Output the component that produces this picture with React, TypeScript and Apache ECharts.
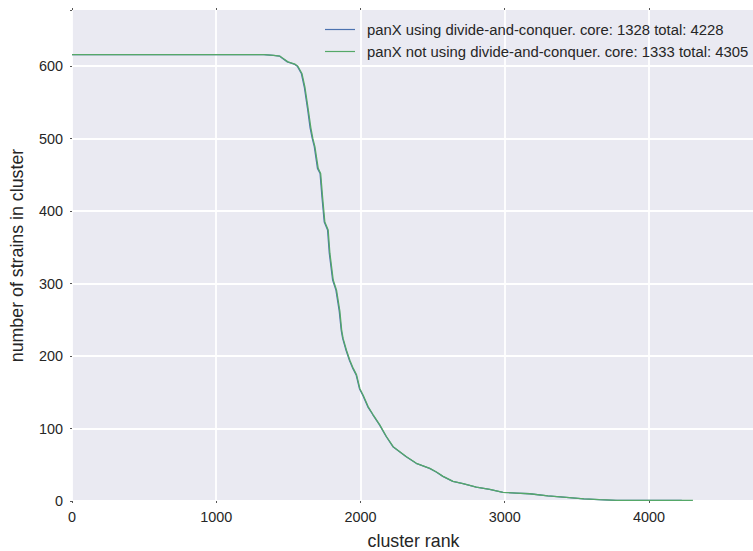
import React, { useEffect, useRef } from "react";
import * as echarts from "echarts";

const seriesNames = [
  "panX using divide-and-conquer. core: 1328 total: 4228",
  "panX not using divide-and-conquer. core: 1333 total: 4305",
];

// cluster rank / number of strains (blue: divide-and-conquer)
const blueRank = [0, 1328, 1395, 1438, 1458, 1493, 1540, 1562, 1590, 1611, 1632, 1651, 1666, 1680, 1702, 1720, 1733, 1749, 1772, 1784, 1807, 1830, 1853, 1867, 1877, 1900, 1924, 1947, 1970, 1993, 2016, 2051, 2086, 2132, 2178, 2225, 2271, 2317, 2386, 2479, 2525, 2571, 2640, 2710, 2802, 2895, 2987, 3080, 3172, 3298, 3426, 3548, 3650, 3770, 3880, 4228];
const blueVal = [616, 616, 615, 614, 611, 606, 603, 600, 590, 571, 543, 515, 500, 489, 459, 452, 420, 385, 374, 342, 305, 291, 262, 235, 224, 208, 194, 183, 174, 155, 146, 130, 119, 105, 89, 75, 68, 61, 52, 45, 40, 34, 27, 24, 19, 16, 12, 11, 10, 7, 5, 3, 2, 1, 1, 1];

// cluster rank / number of strains (green: not using divide-and-conquer)
const greenRank = [0, 1333, 1400, 1440, 1462, 1497, 1545, 1566, 1594, 1615, 1636, 1656, 1670, 1684, 1707, 1724, 1737, 1753, 1776, 1788, 1811, 1834, 1857, 1870, 1880, 1903, 1927, 1950, 1973, 1996, 2019, 2054, 2088, 2134, 2180, 2227, 2273, 2319, 2388, 2481, 2527, 2573, 2642, 2712, 2804, 2897, 2989, 3082, 3174, 3300, 3428, 3550, 3659, 3780, 3890, 4305];
const greenVal = [616, 616, 615, 614, 611, 606, 603, 600, 590, 571, 543, 515, 500, 489, 459, 452, 420, 385, 374, 342, 305, 291, 262, 235, 224, 208, 194, 183, 174, 155, 146, 130, 119, 105, 89, 75, 68, 61, 52, 45, 40, 34, 27, 24, 19, 16, 12, 11, 10, 7, 5, 3, 2, 1, 1, 1];

const xTicks = [0, 1000, 2000, 3000, 4000];
const yTicks = [0, 100, 200, 300, 400, 500, 600];

const colors = ["#4C72B0", "#55A868"];
const FONT = "'Liberation Sans', Arial, sans-serif";

const tickFmt = (ticks: number[]) => (v: number) =>
  Math.abs(v - Math.round(v)) < 1e-6 && ticks.includes(Math.round(v)) ? String(Math.round(v)) : "";

export default function App() {
  const ref = useRef<HTMLDivElement>(null);
  useEffect(() => {
    if (!ref.current) return;
    const chart = echarts.init(ref.current, null, { renderer: "svg" });
    const xMax = 4305 * 1.1;
    const yMax = 616 * 1.1;
    const tickStyle = { show: true, length: 2, lineStyle: { color: "#555", width: 1 } };
    chart.setOption({
      animation: false,
      textStyle: { fontFamily: FONT },
      grid: {
        left: 72,
        top: 10,
        width: 683,
        bottom: 50,
        show: true,
        backgroundColor: "#EAEAF2",
        borderWidth: 0,
        outerBoundsMode: "none",
        containLabel: false,
      },
      legend: {
        orient: "vertical",
        left: 320,
        top: 16,
        itemWidth: 30,
        itemHeight: 1.2,
        itemGap: 5,
        icon: "rect",
        textStyle: {
          fontSize: 14.85,
          color: "#262626",
          fontFamily: FONT,
          lineHeight: 17,
          padding: [0, 0, 0, 7],
        },
        data: seriesNames,
      },
      xAxis: [
        {
          type: "value",
          min: 0,
          max: xMax,
          interval: 1000,
          name: "cluster rank",
          nameLocation: "middle",
          nameGap: 31,
          nameTextStyle: { fontSize: 17.8, color: "#262626", fontFamily: FONT },
          axisLine: { show: false },
          axisTick: tickStyle,
          axisLabel: {
            fontSize: 14.4,
            color: "#262626",
            margin: 9,
            fontFamily: FONT,
            formatter: tickFmt(xTicks),
          },
          splitLine: { show: true, showMaxLine: false, lineStyle: { color: "#FFFFFF", width: 1.8 } },
        },
        {
          type: "value",
          position: "top",
          min: 0,
          max: xMax,
          interval: 1000,
          axisLine: { show: false },
          axisTick: tickStyle,
          axisLabel: { show: false },
          splitLine: { show: false },
        },
      ],
      yAxis: {
        type: "value",
        min: 0,
        max: yMax,
        interval: 100,
        name: "number of strains in cluster",
        nameLocation: "middle",
        nameGap: 46,
        nameTextStyle: { fontSize: 17.8, color: "#262626", fontFamily: FONT },
        axisLine: { show: false },
        axisTick: tickStyle,
        axisLabel: {
          fontSize: 14.4,
          color: "#262626",
          margin: 9,
          fontFamily: FONT,
          formatter: tickFmt(yTicks),
        },
        splitLine: { show: true, showMaxLine: false, lineStyle: { color: "#FFFFFF", width: 1.8 } },
      },
      series: [
        {
          name: seriesNames[0],
          type: "line",
          showSymbol: false,
          symbol: "none",
          color: colors[0],
          lineStyle: { width: 1.3, color: colors[0] },
          data: blueRank.map((r, i) => [r, blueVal[i]]),
          z: 2,
        },
        {
          name: seriesNames[1],
          type: "line",
          showSymbol: false,
          symbol: "none",
          color: colors[1],
          lineStyle: { width: 1.3, color: colors[1] },
          data: greenRank.map((r, i) => [r, greenVal[i]]),
          z: 3,
        },
      ],
    });
    return () => chart.dispose();
  }, []);
  return <div ref={ref} style={{ width: 753, height: 551, position: "absolute", left: 0, top: 0 }} />;
}
